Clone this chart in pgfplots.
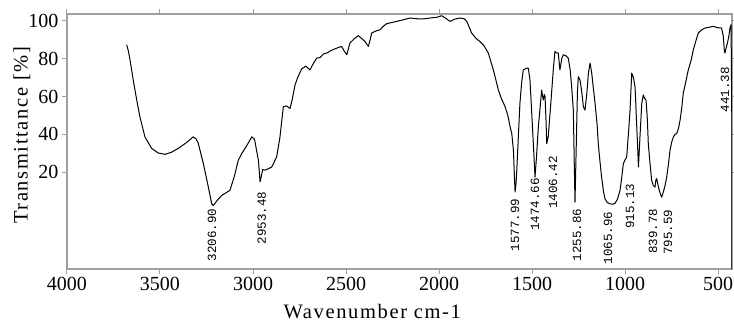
\documentclass[border=0pt]{standalone}
\usepackage{fontspec}
\setmainfont{Liberation Serif}
\newfontfamily\labelfont[LetterSpace=8]{Liberation Serif}
\newfontfamily\peakfont{Liberation Mono}
\usepackage{pgfplots}
\pgfplotsset{compat=1.18}
\tikzset{peak/.style={rotate=90, anchor=east, font=\peakfont\fontsize{12.5}{12.5}\selectfont, inner sep=1pt}}
\begin{document}
\begin{tikzpicture}
\begin{axis}[
 scale only axis, width=665pt, height=255pt,
 x dir=reverse, xmin=425, xmax=4000, ymin=-31, ymax=103.5,
 xtick={500,1000,...,4000}, ytick={20,40,60,80,100},
 tick align=outside, major tick length=5pt,
 axis line style={draw=gray!75, line width=1.3pt},
 major tick style={draw=gray!75, line width=1pt},
 /pgf/number format/assume math mode=true,
 /pgf/number format/1000 sep={},
 tick label style={font=\fontsize{20}{21}\selectfont},
 label style={font=\labelfont\fontsize{20.5}{21}\selectfont},
 xlabel={Wavenumber cm-1}, ylabel={Transmittance [\%]},
 xlabel style={at={(axis description cs:0.459,-0.165)}, anchor=center},
 ylabel style={at={(axis description cs:-0.068,0.524)}, anchor=center},
 clip=true,
]
\addplot[black, line width=1pt, line join=round] coordinates {
(3679,87.3) (3670,84) (3661,79.3) (3644,68.7) (3625,58.1) (3608,49.3) (3581,38.7)
(3545,32.6) (3510,30.2) (3473,29.5) (3440,30.5) (3402,32.6) (3360,35.5) (3321,38.7) (3305,37.5) (3294,35.2)
(3267,24.6) (3240,12.2) (3222,3.4) (3213,2.5) (3190,5.5) (3168,7.8) (3140,9.5) (3124,10.5)
(3100,18) (3079,26.4) (3060,30) (3043,32.6) (3025,35.5) (3007,38.7) (2995,37.8) (2989,36.1) (2980,31) (2971,26.4)
(2962,14.9) (2955,18) (2948,21.5) (2935,21.1) (2915,22) (2899,22.8) (2873,28.1) (2855,38.7)
(2837,54.6) (2820,55) (2801,53.7) (2790,58) (2774,66.1) (2760,70) (2738,74.6) (2715,76) (2694,74.0)
(2675,77.5) (2658,80.2) (2640,80.5) (2620,82.5) (2604,82.9) (2575,84.5) (2550,85.5) (2523,86.4)
(2510,84) (2496,82.0) (2479,88.2) (2455,90.5) (2434,92.1) (2415,90.5) (2398,89.0) (2380,86.4) (2370,90) (2362,93.5)
(2340,94.5) (2317,95.2) (2300,97) (2281,98.4) (2255,99) (2228,99.6) (2190,100.5) (2156,101.4)
(2120,101) (2084,100.9) (2040,101.5) (2010,101.8) (1986,102.6) (1960,101) (1941,99.6) (1915,100.8) (1887,101.4)
(1865,101) (1851,99.6) (1835,96) (1825,93.5) (1800,90.5) (1780,89.0) (1760,87) (1735,82.9)
(1720,78) (1708,74.0) (1695,69) (1681,63.4) (1665,59) (1645,54.6) (1630,50) (1618,44.0) (1609,40.5)
(1600,31.7) (1594,16) (1591,9.6) (1586,14) (1582,21) (1573,40) (1565,56.4) (1555,68) (1547,74.0)
(1530,74.9) (1520,74.9) (1511,68.7) (1502,52) (1493,35.2) (1484,17.5) (1476,28) (1466,44.0)
(1455,56) (1448,63.4) (1443,60) (1439,58.1) (1434,61) (1430,59.9) (1425,48) (1421,35.2) (1413,38.7)
(1404,50) (1395,61.7) (1385,75) (1377,83.7) (1368,83) (1359,82.9) (1350,74.0) (1340,80) (1332,82.0)
(1318,81.5) (1305,80.2) (1295,74) (1287,65.2) (1278,52.8) (1273,25) (1269,4.3) (1262,35) (1256,62) (1251,70.5)
(1242,68.7) (1232,62) (1224,54.6) (1215,52.8) (1205,62) (1197,72.3) (1188,77.6) (1179,72.3)
(1170,64) (1161,56.4) (1150,45) (1144,35.2) (1135,26) (1126,17.5) (1116,10) (1108,6.1)
(1095,4) (1081,3.4) (1066,3.2) (1054,3.6) (1040,6) (1027,10.5) (1018,17) (1009,24.6) (1000,26.5) (991,28.1)
(982,40) (973,52.8) (967,66) (964,72.3) (955,70) (946,64.9) (937,44.0) (932,33) (928,22.8)
(919,40) (910,56.4) (902,60.8) (895,59) (887,58.1) (880,48) (875,35.2) (866,25) (857,15.8)
(848,13) (839,12.2) (834,16) (830,16.7) (820,12) (810,8.5) (803,6.9) (794,9.6) (785,13) (776,17.5)
(767,24) (758,31.7) (749,36) (740,38.7) (731,40) (722,40.5) (713,43) (704,47.5) (695,54)
(687,61.7) (675,67) (660,74.0) (645,79) (633,84.6) (620,89) (606,93.5) (590,95) (570,96.1)
(548,96.5) (526,97.0) (505,96.3) (481,96.1) (472,92) (466,84) (463,82.9) (458,85) (450,88) (442,91.7)
(436,96) (430,97.9) (426,47.5) (425,-31)
};
\node[peak] at (axis cs:3220,1.5) {3206.90};
\node[peak] at (axis cs:2953,10.5) {2953.48};
\node[peak] at (axis cs:1592,6.8) {1577.99};
\node[peak] at (axis cs:1484,17.4) {1474.66};
\node[peak] at (axis cs:1387,29.0) {1406.42};
\node[peak] at (axis cs:1258,1.5) {1255.86};
\node[peak] at (axis cs:1092,-0.1) {1065.96};
\node[peak] at (axis cs:973,14.7) {915.13};
\node[peak] at (axis cs:850,1.5) {839.78};
\node[peak] at (axis cs:769,0.9) {795.59};
\node[peak] at (axis cs:463,76.1) {441.38};
\end{axis}
\pgfresetboundingbox
\path[use as bounding box] ([xshift=-67pt,yshift=-53pt]current axis.south west) rectangle ([xshift=2pt,yshift=14pt]current axis.north east);
\end{tikzpicture}
\end{document}
